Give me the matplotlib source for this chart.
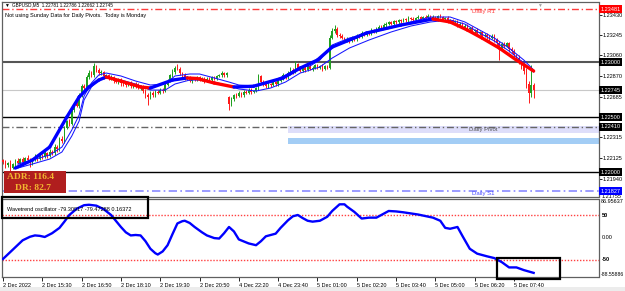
import matplotlib
matplotlib.use("Agg")
import matplotlib.pyplot as plt
from matplotlib.patches import Rectangle

plt.rcParams['font.family'] = ['Liberation Sans', 'DejaVu Sans']

# ---- data (prices in points: price = 1.2 + pts / 1e5) ----
close_pts = [
    2090, 2060, 2080, 2040, 2070, 2100, 2085, 2120, 2095, 2130, 2110, 2080, 2115, 2140, 2120, 2150, 2135, 2170, 2150, 2185,
    2170, 2230, 2210, 2300, 2280, 2400, 2460, 2440, 2560, 2620, 2600, 2700, 2780, 2760, 2860, 2900, 2880, 2960, 2930, 2900,
    2910, 2870, 2880, 2850, 2860, 2830, 2820, 2840, 2810, 2800, 2790, 2810, 2780, 2800, 2790, 2770, 2780, 2740, 2700, 2680,
    2720, 2700, 2730, 2720, 2750, 2740, 2790, 2830, 2880, 2910, 2950, 2940, 2900, 2880, 2850, 2860, 2830, 2850, 2840, 2860,
    2840, 2850, 2830, 2850, 2840, 2860, 2850, 2870, 2880, 2900, 2880, 2900, 2618, 2660, 2700, 2690, 2720, 2700, 2730, 2720,
    2750, 2730, 2740, 2760, 2870, 2820, 2800, 2780, 2800, 2790, 2820, 2800, 2830, 2850, 2880, 2860, 2900, 2930, 2910, 2980,
    2950, 2920, 2950, 2930, 2960, 2940, 2950, 2970, 2950, 2960, 2940, 2960, 2950, 3220, 3280, 3300, 3250, 3240, 3220, 3200,
    3210, 3190, 3220, 3210, 3240, 3230, 3260, 3250, 3270, 3260, 3290, 3280, 3300, 3320, 3310, 3340, 3350, 3360, 3350, 3370,
    3360, 3380, 3370, 3390, 3380, 3400, 3390, 3380, 3400, 3410, 3390, 3410, 3400, 3420, 3400, 3410, 3390, 3420, 3410, 3390,
    3400, 3370, 3380, 3360, 3370, 3340, 3350, 3320, 3330, 3300, 3310, 3280, 3290, 3260, 3270, 3240, 3250, 3230, 3220, 3240,
    3200, 3170, 3130, 3160, 3150, 3170, 3120, 3100, 3060, 3040, 3000, 2960, 2920, 2800, 2720, 2790, 2745,
]
wick_up = [
    12, 20, 8, 25, 10, 15, 30, 12, 18, 10, 22, 15, 8, 20, 12, 25, 10, 18, 14, 20,
    15, 25, 20, 18, 30, 22, 15, 25, 20, 18, 24, 15, 20, 22, 18, 25, 15, 30, 12, 15,
    18, 10, 15, 12, 20, 10, 15, 18, 12, 20, 15, 10, 18, 12, 15, 20, 10, 15, 12, 18,
    15, 20, 12, 18, 15, 12, 20, 18, 15, 22, 18, 30, 15, 12, 18, 10, 15, 12, 18, 10,
    12, 15, 10, 18, 12, 15, 10, 12, 15, 18, 12, 10, 15, 20, 12, 18, 15, 10, 12, 18,
    15, 12, 10, 15, 25, 12, 18, 10, 15, 12, 18, 10, 15, 12, 20, 15, 18, 25, 15, 30,
    12, 18, 10, 15, 12, 18, 10, 12, 15, 10, 18, 12, 10, 30, 25, 36, 15, 12, 18, 10,
    15, 12, 18, 10, 15, 12, 18, 10, 15, 12, 18, 10, 15, 20, 12, 18, 15, 12, 10, 15,
    12, 10, 15, 12, 10, 15, 12, 18, 10, 15, 12, 10, 15, 20, 10, 15, 12, 10, 18, 12,
    10, 15, 12, 10, 15, 12, 18, 10, 15, 12, 10, 15, 12, 18, 10, 12, 15, 10, 12, 15,
    12, 15, 20, 18, 25, 15, 12, 18, 15, 12, 20, 15, 12, 30, 25, 180, 20,
]
wick_dn = [
    15, 25, 10, 30, 12, 20, 15, 25, 10, 18, 20, 30, 12, 15, 20, 10, 18, 12, 20, 15,
    18, 12, 25, 15, 20, 18, 12, 22, 15, 18, 12, 20, 15, 12, 18, 10, 15, 12, 18, 20,
    15, 22, 12, 18, 15, 20, 12, 18, 25, 15, 20, 12, 18, 15, 22, 12, 20, 25, 30, 70,
    20, 15, 18, 12, 15, 20, 12, 10, 15, 12, 18, 15, 20, 12, 18, 15, 12, 18, 15, 12,
    15, 12, 18, 15, 12, 18, 15, 12, 10, 15, 12, 18, 54, 20, 15, 18, 12, 15, 18, 12,
    15, 18, 12, 15, 10, 18, 15, 12, 18, 15, 12, 18, 15, 12, 10, 15, 12, 18, 15, 12,
    18, 15, 12, 18, 15, 12, 18, 15, 12, 15, 18, 12, 15, 10, 12, 15, 20, 18, 15, 12,
    18, 15, 12, 18, 15, 12, 10, 15, 12, 18, 10, 15, 12, 10, 15, 12, 18, 10, 15, 12,
    10, 15, 12, 10, 15, 12, 10, 15, 12, 10, 15, 12, 10, 15, 12, 18, 10, 15, 12, 10,
    15, 12, 18, 15, 12, 18, 15, 12, 18, 15, 12, 18, 15, 20, 12, 18, 15, 20, 25, 15,
    20, 30, 110, 25, 20, 18, 25, 20, 30, 25, 20, 25, 30, 35, 90, 40, 70,
]
gap_open = {92: 2680}   # weekend gap

# moving average (thick, coloured by slope)
ma_bar = [5, 12, 19, 26, 31, 35, 39, 42, 48, 56, 60, 69, 75, 79, 86, 94, 102, 114, 121, 128,
          134, 148, 162, 175, 182, 189, 195, 202, 209, 216]
ma_pts = [2036, 2109, 2227, 2500, 2682, 2773, 2836, 2864, 2827, 2773, 2764, 2836, 2855, 2850, 2809,
          2773, 2780, 2855, 2945, 3018, 3136, 3264, 3336, 3391, 3364, 3291, 3218, 3127, 3018, 2918]

# envelope lines
band_bar = [6, 12, 19, 24, 28, 31, 33, 36, 39, 42, 48, 54, 60, 66, 70, 76, 80, 86, 92, 96,
            103, 109, 115, 121, 125, 129, 134, 141, 149, 158, 166, 174, 182, 188, 194, 200, 206, 212, 216]
upper_pts = [2073, 2109, 2155, 2227, 2382, 2518, 2691, 2809, 2882, 2900, 2873, 2827, 2791, 2800, 2873,
             2891, 2891, 2855, 2818, 2791, 2782, 2818, 2882, 2955, 2964, 3018, 3155, 3218, 3264, 3309,
             3364, 3409, 3409, 3364, 3291, 3218, 3127, 3018, 2927]
lower_pts = [2036, 2073, 2118, 2182, 2327, 2464, 2655, 2773, 2836, 2855, 2836, 2800, 2745, 2745, 2800,
             2836, 2836, 2818, 2782, 2755, 2736, 2764, 2818, 2900, 2927, 2955, 3036, 3127, 3200, 3273,
             3327, 3364, 3382, 3345, 3264, 3191, 3100, 2991, 2909]

# wavetrend oscillator
wt_bar = [0, 4, 8, 11, 13, 15, 17, 20, 23, 25, 27, 30, 33, 35, 38, 41, 44, 48, 50, 52, 54, 56, 58, 60,
          62, 63, 65, 67, 69, 71, 73, 74, 76, 78, 81, 83, 86, 88, 90, 92, 94, 96, 100, 103, 105, 107,
          111, 113, 116, 118, 120, 122, 124, 126, 129, 132, 134, 137, 139, 140, 143, 146, 149, 152, 155,
          157, 160, 163, 169, 175, 178, 180, 182, 185, 187, 190, 193, 197, 200, 203, 206, 209, 212, 216]
wt_val = [-48, -27, -6, 2, 5, 4, 1.5, 10, 22, 36, 51, 65, 73, 74, 72, 64, 51, 24, 12, 5, 6, 5, -8, -25,
          -35, -38, -31, -17, 8, 32, 37, 38, 33, 24, 12, 5, -1, -2, 10, 24, 14, -4, -13, -17, -8, 3,
          9, 22, 39, 48, 51, 44, 38, 36, 38, 47, 60, 75, 75, 70, 58, 43, 45, 45, 54,
          60, 59, 57, 52, 45, 38, 22, 20, 24, 4, -25, -36, -42, -46, -55, -67, -67, -73, -79.3]

# pivot levels
r1, pivot, s1 = 1.23481, 1.22410, 1.21827
round_levels = [1.23000, 1.22500, 1.22000]
last_price = 1.22745
zone_start = 116
pivot_zone = (1.22359, 1.22418)
blue_zone = (1.22255, 1.22312)

price_ticks = [1.23430, 1.23245, 1.23060, 1.22870, 1.22685, 1.22315, 1.22125, 1.21940]
time_labels = ["2 Dec 2022", "2 Dec 15:30", "2 Dec 16:50", "2 Dec 18:10", "2 Dec 19:30", "2 Dec 20:50",
               "4 Dec 22:20", "4 Dec 23:40", "5 Dec 01:00", "5 Dec 02:20", "5 Dec 03:40", "5 Dec 05:00",
               "5 Dec 06:20", "5 Dec 07:40"]

W, H = 625, 291


def px(x, y):
    return x / W, 1 - y / H


def pr(p):
    return 1.2 + p / 1e5


fig = plt.figure(figsize=(W / 100, H / 100), dpi=100)
fig.patch.set_facecolor('white')
ax = fig.add_axes([2 / W, 1 - 197 / H, 596.5 / W, 195 / H])
ax2 = fig.add_axes([2 / W, 1 - 277 / H, 596.5 / W, 78 / H])

xmin, xmax = -0.4, 242.4
FS = 4

# ---- candles ----
n = len(close_pts)
for i in range(n):
    c = close_pts[i]
    o = gap_open.get(i, close_pts[i - 1] if i > 0 else c + 20)
    hi = max(o, c) + wick_up[i]
    lo = min(o, c) - wick_dn[i]
    col = '#1fa01f' if c >= o else '#ff1a1a'
    ax.vlines(i, pr(lo), pr(hi), color=col, lw=0.7, zorder=2)
    h = max(abs(c - o), 2)
    ax.bar(i, h / 1e5, bottom=pr(min(o, c)), width=0.62, color=col, lw=0, zorder=3)

# ---- levels ----
ax.axhline(r1, color='#ff3b3b', lw=1, ls=(0, (5, 2, 1, 2)), zorder=1)
ax.axhline(round_levels[0], color='#555555', lw=1.5, zorder=1)
ax.axhline(round_levels[1], color='black', lw=1, zorder=1)
ax.axhline(round_levels[2], color='black', lw=1, zorder=1)
ax.axhline(last_price, color='#c8c8c8', lw=0.8, zorder=1)
ax.axhspan(pivot_zone[0], pivot_zone[1], xmin=(zone_start - xmin) / (xmax - xmin), color='#dedefa', lw=0, zorder=0)
ax.axhspan(blue_zone[0], blue_zone[1], xmin=(zone_start - xmin) / (xmax - xmin), color='#a3cdf5', lw=0, zorder=0)
ax.axhline(pivot, color='#666666', lw=1, ls=(0, (5, 2, 1, 2)), zorder=1)
ax.axhline(s1, color='#8a8aff', lw=1.2, ls=(0, (5, 2, 1, 2)), zorder=1)

ax.text(191, r1 - 0.00003, "Daily R1", color='#ff4040', fontsize=FS + 0.3, va='top', ha='left')
ax.text(189.5, pivot - 0.00002, "Daily Pivot", color='#555555', fontsize=FS + 0.3, va='top', ha='left')
ax.text(191, s1 - 0.00003, "Daily S1", color='#4a4aff', fontsize=FS + 0.3, va='top', ha='left')

# ---- moving averages ----
ax.plot(band_bar, [pr(v) for v in upper_pts], color='#1616ff', lw=0.75, zorder=4)
ax.plot(band_bar, [pr(v) for v in lower_pts], color='#1616ff', lw=0.75, zorder=4)
for i in range(len(ma_bar) - 1):
    col = '#0000ff' if ma_pts[i + 1] > ma_pts[i] else '#ff0000'
    ax.plot(ma_bar[i:i + 2], [pr(ma_pts[i]), pr(ma_pts[i + 1])], color=col, lw=2.4,
            solid_capstyle='round', zorder=5)

ax.set_xlim(xmin, xmax)
ax.set_ylim(1.21773, 1.235455)
ax.set_xticks([])
ax.yaxis.tick_right()
ax.set_yticks(price_ticks)
ax.set_yticklabels([f"{p:.5f}" for p in price_ticks], fontsize=FS)
ax.tick_params(axis='y', length=2, width=0.6, pad=1, colors='black')
for s in ax.spines.values():
    s.set_color('#606060')
    s.set_linewidth(0.9)

# boxed price labels
boxed = [(r1, '#ff0000'), (1.23000, 'black'), (last_price, 'black'), (1.22500, 'black'),
         (pivot, 'black'), (1.22000, 'black'), (s1, '#0000ff')]
for p, bg in boxed:
    ax.text(1.003, p, f"{p:.5f}", transform=ax.get_yaxis_transform(), fontsize=FS, color='white',
            va='center', ha='left', bbox=dict(boxstyle='square,pad=0.25', fc=bg, ec='none'), zorder=10,
            clip_on=False)
ax.text(1.006, 1.21777, "1.21755", transform=ax.get_yaxis_transform(), fontsize=FS, va='center',
        ha='left', clip_on=False)

# ---- oscillator ----
ax2.plot(wt_bar, wt_val, color='#0000ff', lw=1.7, solid_joinstyle='round', zorder=3)
ax2.axhline(50, color='#ff4040', lw=1, ls=(0, (1, 1.2)), zorder=1)
ax2.axhline(-50, color='#ff4040', lw=1, ls=(0, (1, 1.2)), zorder=1)
ax2.set_xlim(xmin, xmax)
ax2.set_ylim(-88.55886, 86.95637)
ax2.set_yticks([])
tick_bars = [16 * k for k in range(len(time_labels))]
ax2.set_xticks(tick_bars)
ax2.set_xticklabels(time_labels, fontsize=FS, ha='left')
ax2.tick_params(axis='x', length=3, width=0.6, pad=1.5)
for s in ax2.spines.values():
    s.set_color('#606060')
    s.set_linewidth(0.9)
yt = ax2.get_yaxis_transform()
ax2.text(1.004, 86.9, "86.95637", transform=yt, fontsize=FS, va='top', ha='left', clip_on=False)
ax2.text(1.006, 50, "50", transform=yt, fontsize=FS, va='center', ha='left', weight='bold', clip_on=False)
ax2.text(1.006, 0, "0.00", transform=yt, fontsize=FS, va='center', ha='left', clip_on=False)
ax2.text(1.006, -50, "-50", transform=yt, fontsize=FS, va='center', ha='left', weight='bold', clip_on=False)
ax2.text(1.003, -88.5, "-88.55886", transform=yt, fontsize=3.7, va='bottom', ha='left', clip_on=False)
ax2.text(0.008, 0.9, "Wavetrend oscillator -79.30917 -79.47288 0.16372", transform=ax2.transAxes,
         fontsize=FS, va='top', ha='left')

# ---- overlays in pixel space ----
x0, y0 = px(4, 193)
x1, y1 = px(66, 171)
fig.patches.append(Rectangle((x0, y0), x1 - x0, y1 - y0, transform=fig.transFigure,
                             fc='#b01e1e', ec='none', zorder=20))
fig.text(*px(7, 177), "ADR: 116.4", family=['Liberation Serif', 'DejaVu Serif'], weight='bold',
         fontsize=6.8, color='#f2b630', va='center', ha='left', zorder=21)
fig.text(*px(15, 188), "DR: 82.7", family=['Liberation Serif', 'DejaVu Serif'], weight='bold',
         fontsize=6.8, color='#f2b630', va='center', ha='left', zorder=21)

for (a, b, c, d) in [(2, 197, 148, 218), (497, 258, 560, 279)]:
    xa, ya = px(a, d)
    xb, yb = px(c, b)
    fig.patches.append(Rectangle((xa, ya), xb - xa, yb - ya, transform=fig.transFigure,
                                 fc='none', ec='black', lw=1.6, zorder=22))

fig.text(*px(4, 5), "\u25bc", fontsize=3.5, va='center', ha='left')
fig.text(*px(12, 5), "GBPUSD,M5  1.22781 1.22786 1.22662 1.22745", fontsize=3.3, va='center', ha='left')
fig.text(*px(5, 15), "Not using Sunday Data for Daily Pivots.  Today is Monday", fontsize=FS,
         va='center', ha='left')
fig.text(*px(539, 5), "\u25bc", fontsize=3.5, color='#a0a0a0', va='center', ha='center')

fig.patches.append(Rectangle((0, 0), 1, 4 / H, transform=fig.transFigure, fc='#ececec', ec='none'))

fig.savefig("out.png", dpi=100, facecolor='white')
